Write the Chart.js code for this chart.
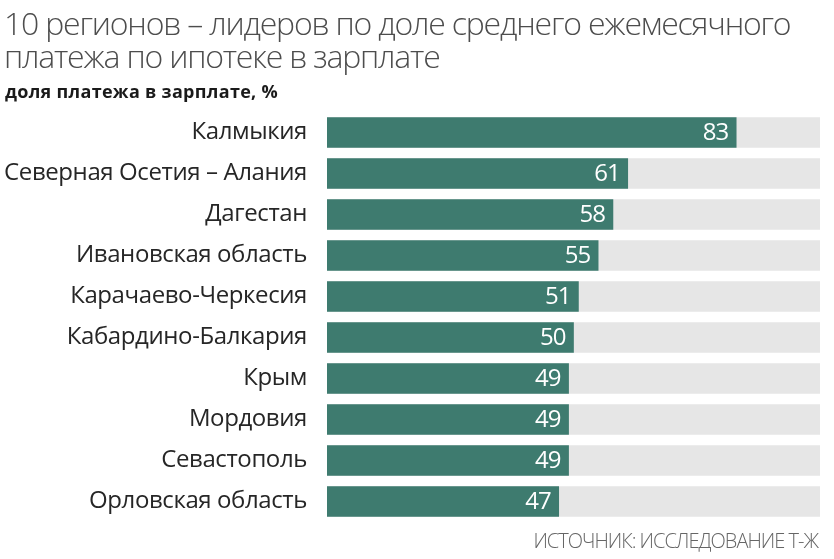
<!DOCTYPE html>
<html>
<head>
<meta charset="utf-8">
<script src="https://cdn.jsdelivr.net/npm/chart.js@4/dist/chart.umd.min.js"></script>
<style>
  html, body { margin: 0; padding: 0; background: #fff; overflow: hidden; }
  #wrap { width: 834px; height: 559px; position: relative; }
</style>
</head>
<body>
<div id="wrap"><canvas id="chart" width="834" height="559"></canvas></div>
<script>
// data
const regions = ['Калмыкия', 'Северная Осетия – Алания', 'Дагестан', 'Ивановская область',
  'Карачаево-Черкесия', 'Кабардино-Балкария', 'Крым', 'Мордовия', 'Севастополь', 'Орловская область'];
const shares = [83, 61, 58, 55, 51, 50, 49, 49, 49, 47];
const fullScale = [100, 100, 100, 100, 100, 100, 100, 100, 100, 100];

const titleLines = ['10 регионов – лидеров по доле среднего ежемесячного', 'платежа по ипотеке в зарплате'];
const subtitle = 'доля платежа в зарплате, %';
const source = 'ИСТОЧНИК: ИССЛЕДОВАНИЕ Т-Ж';

const teal = '#3e7b6f';
const FONT = '"Open Sans", sans-serif';

// texts drawn straight on the canvas
const textPlugin = {
  id: 'texts',
  beforeDraw(chart) {
    // tighter tracking for the category labels
    chart.ctx.letterSpacing = '-0.4px';
  },
  afterDatasetsDraw(chart) {
    let c = chart.ctx;
    let meta = chart.getDatasetMeta(0);
    c.save();
    c.letterSpacing = '-1px';
    c.fillStyle = '#fff';
    c.font = '24px ' + FONT;
    c.textAlign = 'right';
    c.textBaseline = 'middle';
    meta.data.forEach(function (bar, i) {
      c.fillText(shares[i], bar.x - 8, bar.y + 1);
    });
    c.restore();
  },
  afterDraw(chart) {
    let c = chart.ctx;
    c.save();
    c.textBaseline = 'alphabetic';
    c.fillStyle = '#4d4d4d';
    c.font = '300 32px ' + FONT;
    c.letterSpacing = '-1.2px';
    c.fillText(titleLines[0], 4, 35);
    c.fillText(titleLines[1], 4, 68);
    c.fillStyle = '#1a1a1a';
    c.font = '700 18px ' + FONT;
    c.letterSpacing = '0.3px';
    c.fillText(subtitle, 5, 98);
    c.fillStyle = '#666';
    c.font = '300 20px ' + FONT;
    c.letterSpacing = '-1px';
    c.textAlign = 'right';
    c.fillText(source, 818, 548);
    c.restore();
  }
};

new Chart(document.getElementById('chart'), {
  type: 'bar',
  data: {
    labels: regions,
    datasets: [
      {
        data: shares,
        backgroundColor: teal,
        barThickness: 30,
        grouped: false,
        order: 0
      },
      {
        data: fullScale,
        backgroundColor: '#e6e6e6',
        barThickness: 30,
        grouped: false,
        order: 1
      }
    ]
  },
  options: {
    indexAxis: 'y',
    responsive: false,
    animation: false,
    devicePixelRatio: 1,
    layout: { padding: { top: 112, bottom: 37, right: 14, left: 0 } },
    plugins: {
      legend: { display: false },
      tooltip: { enabled: false }
    },
    scales: {
      x: { display: false, min: 0, max: 100 },
      y: {
        grid: { display: false },
        border: { display: false },
        ticks: {
          color: '#262626',
          padding: 12,
          font: { family: FONT, size: 24 }
        },
        afterFit(scale) { scale.width = 327; }
      }
    }
  },
  plugins: [textPlugin]
});
</script>
</body>
</html>
